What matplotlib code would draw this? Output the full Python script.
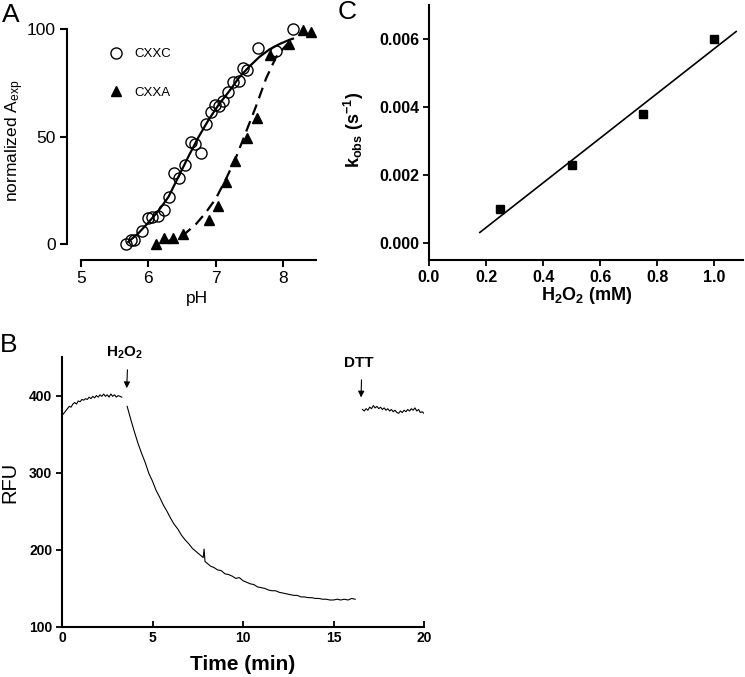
import numpy as np
import matplotlib
matplotlib.use("Agg")
import matplotlib.pyplot as plt

plt.rcParams['font.family'] = ['Liberation Sans', 'DejaVu Sans']
plt.rcParams['mathtext.default'] = 'regular'

# panel A: pH titration
ph_cxxc = [5.66, 5.74, 5.79, 5.90, 5.99, 6.06, 6.15, 6.23, 6.30, 6.38, 6.45, 6.55, 6.63, 6.70,
           6.78, 6.86, 6.93, 6.99, 7.05, 7.11, 7.19, 7.26, 7.35, 7.40, 7.46, 7.63, 7.90, 8.15]
a_cxxc = [0, 2, 2, 6, 12, 12.5, 13, 16, 22, 33, 30.5, 37, 47.5, 46.5,
          42.5, 56, 61.5, 64.5, 64, 66.5, 70.5, 75.5, 76, 82, 81, 91, 90, 100]
ph_cxxa = [6.12, 6.23, 6.37, 6.52, 6.90, 7.03, 7.16, 7.29, 7.46, 7.61, 7.81, 8.09, 8.30, 8.42]
a_cxxa = [0, 3, 3, 4.5, 11, 17.5, 29, 38.5, 49.5, 58.5, 88, 93, 99.5, 98.5]

# fitted curves
fit_ph_cxxc = [5.70, 5.85, 6.00, 6.15, 6.30, 6.45, 6.60, 6.75, 6.90, 7.05, 7.20, 7.35, 7.50, 7.65, 7.80, 7.95, 8.10, 8.15]
fit_a_cxxc = [1, 5, 10, 15.5, 22, 31.5, 41, 50, 58, 65, 71, 77.5, 82.5, 87, 90.5, 93, 95, 95.5]
fit_ph_cxxa = [6.25, 6.40, 6.55, 6.70, 6.85, 7.00, 7.15, 7.30, 7.45, 7.60, 7.75, 7.90, 8.05, 8.10]
fit_a_cxxa = [1, 2.5, 5, 9, 14.5, 21, 30, 40, 52, 64, 77, 87, 92.5, 94]

# panel B: fluorescence trace
t_before = np.linspace(0, 3.3, 34)
rfu_before = [374, 377, 380, 383, 386, 385, 389, 391, 389, 393, 392, 395, 394, 396, 395, 398, 396,
              399, 397, 400, 398, 401, 399, 402, 399, 401, 398, 402, 399, 401, 398, 400, 399, 398]
t_decay = [3.6, 3.8, 4.0, 4.2, 4.4, 4.6, 4.8, 5.0, 5.2, 5.4, 5.6, 5.8, 6.0, 6.2, 6.4, 6.6, 6.8, 7.0,
           7.2, 7.4, 7.6, 7.7, 7.8, 7.85, 7.9, 8.0, 8.2, 8.4, 8.6, 8.8, 9.0, 9.2, 9.4, 9.6, 9.8, 10.0,
           10.2, 10.4, 10.6, 10.8, 11.0, 11.2, 11.4, 11.6, 11.8, 12.0, 12.2, 12.4, 12.6, 12.8, 13.0,
           13.2, 13.4, 13.6, 13.8, 14.0, 14.2, 14.4, 14.6, 14.8, 15.0, 15.2, 15.4, 15.6, 15.8, 16.0, 16.2]
rfu_decay = [386, 369, 353, 338, 325, 313, 299, 289, 277, 268, 258, 250, 241, 233, 227, 219, 213, 208,
             202, 198, 194, 192, 190, 201, 185, 183, 179, 177, 174, 173, 169, 168, 166, 163, 164, 160,
             158, 156, 155, 152, 151, 150, 148, 147, 147, 145, 144, 143, 142, 141, 141,
             139, 139, 138, 138, 137, 137, 136, 136, 135, 135, 136, 135, 136, 135, 137, 136]
t_dtt = np.linspace(16.6, 20.0, 35)
rfu_dtt = [382, 380, 383, 381, 385, 383, 387, 384, 386, 383, 385, 382, 384, 381, 383, 380, 382, 379,
           381, 378, 377, 380, 378, 381, 379, 382, 380, 383, 381, 384, 380, 382, 378, 379, 377]

# panel C: kobs vs H2O2
h2o2 = [0.25, 0.50, 0.75, 1.00]
kobs = [0.0010, 0.0023, 0.0038, 0.0060]
fit_h2o2 = [0.178, 1.076]
fit_kobs = [0.00031, 0.00622]

W, H = 745, 677
fig = plt.figure(figsize=(W / 100, H / 100), dpi=100)

def box(l, t, r, b):
    return [l / W, 1 - b / H, (r - l) / W, (b - t) / H]

# ---- A ----
axA = fig.add_axes(box(67, 29, 316.5, 260))
axA.plot(fit_ph_cxxc, fit_a_cxxc, color='black', lw=1.6)
axA.plot(fit_ph_cxxa, fit_a_cxxa, color='black', lw=1.6, dashes=(5, 3))
axA.plot(ph_cxxc, a_cxxc, ls='none', marker='o', ms=8, mfc='none', mec='black', mew=1.0,
         label='CXXC', clip_on=False)
axA.plot(ph_cxxa, a_cxxa, ls='none', marker='^', ms=6.5, color='black', label='CXXA', clip_on=False)
axA.set_xlim(4.79, 8.5)
axA.set_ylim(-7.4, 100)
axA.spines[['top', 'right']].set_visible(False)
axA.spines['left'].set_bounds(0, 100)
axA.spines['bottom'].set_bounds(5, 8.5)
for s in axA.spines.values():
    s.set_linewidth(1.5)
axA.set_xticks([5, 6, 7, 8])
axA.set_yticks([0, 50, 100])
axA.tick_params(direction='out', length=5, width=1.5, labelsize=12.5, pad=3)
axA.legend(loc='upper left', bbox_to_anchor=(0.168, 0.918), frameon=False, fontsize=9.5,
           handlelength=1.0, handletextpad=0.9, labelspacing=2.0, borderpad=0, borderaxespad=0)
fig.text(15 / W, 1 - 141 / H, 'normalized A$_{exp}$', rotation=90, ha='center', va='center', fontsize=12.5)
fig.text(197 / W, 1 - 299 / H, 'pH', ha='center', va='center', fontsize=12.5)

# ---- B ----
axB = fig.add_axes(box(62, 357, 424, 627))
axB.plot(t_before, rfu_before, color='black', lw=0.8)
axB.plot(t_decay, rfu_decay, color='black', lw=0.8)
axB.plot(t_dtt, rfu_dtt, color='black', lw=0.8)
axB.set_xlim(0, 20)
axB.set_ylim(100, 450)
axB.spines[['top', 'right']].set_visible(False)
for s in axB.spines.values():
    s.set_linewidth(1.5)
axB.set_xticks([0, 5, 10, 15, 20])
axB.set_yticks([100, 200, 300, 400])
axB.tick_params(axis='x', direction='in', length=4, width=1.3, labelsize=10, pad=3)
axB.tick_params(axis='y', direction='out', length=4, width=1.3, labelsize=10, pad=3)
for lab in axB.get_xticklabels() + axB.get_yticklabels():
    lab.set_fontweight('bold')
axB.annotate('', xy=(3.57, 406), xytext=(3.62, 437),
             arrowprops=dict(arrowstyle='-|>', color='black', lw=0.8, mutation_scale=9))
axB.text(3.45, 445, 'H$_2$O$_2$', ha='center', va='bottom', fontsize=11, fontweight='bold', clip_on=False)
axB.annotate('', xy=(16.52, 394), xytext=(16.55, 424),
             arrowprops=dict(arrowstyle='-|>', color='black', lw=0.8, mutation_scale=9))
axB.text(16.4, 433, 'DTT', ha='center', va='bottom', fontsize=11, fontweight='bold')
fig.text(10 / W, 1 - 482 / H, 'RFU', rotation=90, ha='center', va='center', fontsize=14.5)
fig.text(243 / W, 1 - 665 / H, 'Time (min)', ha='center', va='center', fontsize=15, fontweight='bold')

# ---- C ----
axC = fig.add_axes(box(429, 5, 743, 260))
axC.plot(fit_h2o2, fit_kobs, color='black', lw=1.2)
axC.plot(h2o2, kobs, ls='none', marker='s', ms=6, color='black')
axC.set_xlim(0, 1.1)
axC.set_ylim(-0.0005, 0.007)
axC.spines[['top', 'right']].set_visible(False)
for s in axC.spines.values():
    s.set_linewidth(1.5)
axC.set_xticks([0.0, 0.2, 0.4, 0.6, 0.8, 1.0])
axC.set_xticklabels(['0.0', '0.2', '0.4', '0.6', '0.8', '1.0'])
axC.set_yticks([0.000, 0.002, 0.004, 0.006])
axC.set_yticklabels(['0.000', '0.002', '0.004', '0.006'])
axC.tick_params(direction='out', length=4, width=1.3, labelsize=11.5, pad=3)
for lab in axC.get_xticklabels() + axC.get_yticklabels():
    lab.set_fontweight('bold')
fig.text(587 / W, 1 - 295 / H, 'H$_2$O$_2$ (mM)', ha='center', va='center', fontsize=13, fontweight='bold')
fig.text(354 / W, 1 - 130 / H, 'k$_{obs}$ (s$^{-1}$)', rotation=90, ha='center', va='center',
         fontsize=13, fontweight='bold')

# panel letters
fig.text(2 / W, 1 - 22 / H, 'A', fontsize=19, va='baseline')
fig.text(0 / W, 1 - 352 / H, 'B', fontsize=19, va='baseline')
fig.text(338 / W, 1 - 19 / H, 'C', fontsize=19, va='baseline')

fig.savefig('out.png', dpi=100)
